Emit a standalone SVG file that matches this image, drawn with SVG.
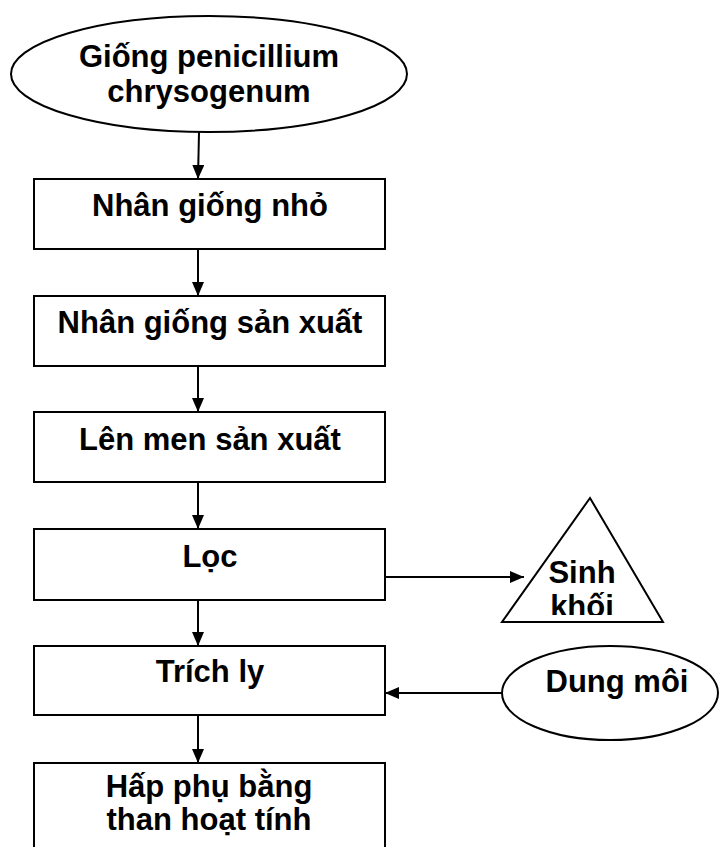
<svg xmlns="http://www.w3.org/2000/svg" width="720" height="847" viewBox="0 0 720 847">
<style>
.s{fill:#fff;stroke:#000;stroke-width:2}
.t{font-family:"Liberation Sans",Arial,sans-serif;font-weight:bold;font-size:31px;fill:#000;text-anchor:middle}
.c{stroke:#000;stroke-width:2;fill:none}
</style>
<defs>
<marker id="ah" viewBox="0 0 14 12" refX="14" refY="6" markerWidth="14" markerHeight="12" orient="auto" markerUnits="userSpaceOnUse">
<path d="M0,0 L14,6 L0,12 Z" fill="#000"/>
</marker>
<clipPath id="tri"><rect x="500" y="495" width="170" height="120"/></clipPath>
</defs>
<rect width="720" height="847" fill="#fff"/>
<g id="connectors">
<line class="c" x1="199" y1="132" x2="198" y2="179" marker-end="url(#ah)"/>
<line class="c" x1="198" y1="249" x2="198" y2="296" marker-end="url(#ah)"/>
<line class="c" x1="198" y1="366" x2="198" y2="412" marker-end="url(#ah)"/>
<line class="c" x1="198" y1="482" x2="198" y2="529" marker-end="url(#ah)"/>
<line class="c" x1="198" y1="600" x2="198" y2="646" marker-end="url(#ah)"/>
<line class="c" x1="198" y1="715" x2="198" y2="763" marker-end="url(#ah)"/>
<line class="c" x1="385" y1="577" x2="524" y2="577" marker-end="url(#ah)"/>
<line class="c" x1="502" y1="693" x2="385" y2="693" marker-end="url(#ah)"/>
</g>
<g id="giong">
<ellipse class="s" cx="209" cy="74" rx="198" ry="58"/>
<text class="t" x="209" y="67">Giống penicillium</text>
<text class="t" x="209" y="102">chrysogenum</text>
</g>
<g id="nhan-giong-nho">
<rect class="s" x="34" y="179" width="351" height="70"/>
<text class="t" x="210" y="216">Nhân giống nhỏ</text>
</g>
<g id="nhan-giong-san-xuat">
<rect class="s" x="34" y="296" width="351" height="70"/>
<text class="t" x="210" y="333">Nhân giống sản xuất</text>
</g>
<g id="len-men">
<rect class="s" x="34" y="412" width="351" height="70"/>
<text class="t" x="210" y="450">Lên men sản xuất</text>
</g>
<g id="loc">
<rect class="s" x="34" y="529" width="351" height="71"/>
<text class="t" x="210" y="567">Lọc</text>
</g>
<g id="sinh-khoi">
<polygon class="s" points="590,498 663,622 502,622"/>
<text class="t" x="582" y="583">Sinh</text>
<text class="t" x="582" y="617" clip-path="url(#tri)">khối</text>
</g>
<g id="trich-ly">
<rect class="s" x="34" y="646" width="351" height="69"/>
<text class="t" x="210" y="682">Trích ly</text>
</g>
<g id="dung-moi">
<ellipse class="s" cx="610" cy="693" rx="108" ry="47"/>
<text class="t" x="617" y="692">Dung môi</text>
</g>
<g id="hap-phu">
<rect class="s" x="34" y="763" width="351" height="100"/>
<text class="t" x="209" y="797">Hấp phụ bằng</text>
<text class="t" x="209" y="830">than hoạt tính</text>
</g>
</svg>
